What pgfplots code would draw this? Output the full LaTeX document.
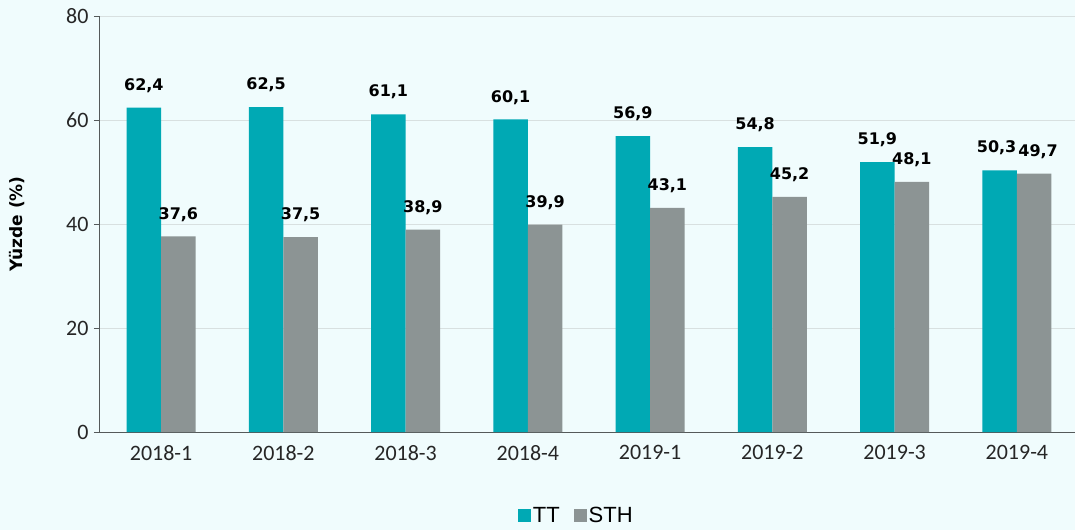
\documentclass[border=0pt]{standalone}
\usepackage{pgfplots}
\usepackage{pgfplotstable}
\pgfplotsset{compat=1.18}
\usepackage{fontspec}
\setmainfont{Carlito}
\newfontfamily\lblfont{DejaVu Sans}
\newfontfamily\legfont{Liberation Sans}
\definecolor{bg}{HTML}{F0FCFD}
\definecolor{teal1}{HTML}{00A9B4}
\definecolor{gray1}{HTML}{8C9494}
\definecolor{axc}{HTML}{555A5A}
\definecolor{gridc}{HTML}{D8E0E0}
\pgfplotstableread{
x y dx
0 62.4 0
1 62.5 0
2 61.1 0
3 60.1 0
4 56.9 0
5 54.8 0
6 51.9 0
7 50.3 -3
}\tttable
\pgfplotstableread{
x y dx
0 37.6 0
1 37.5 0
2 38.9 0
3 39.9 0
4 43.1 0
5 45.2 0
6 48.1 0
7 49.7 4
}\sthtable
\begin{document}
\begin{tikzpicture}
\fill[bg] (-100pt,-98pt) rectangle (975pt,432pt);
\begin{axis}[
  at={(0,0)}, anchor=south west,
  scale only axis, width=978pt, height=416pt,
  xmin=-0.5, xmax=7.5, ymin=0, ymax=80,
  axis x line*=bottom, axis y line*=left,
  axis line style={axc, line width=1pt},
  ybar=0pt, bar width=34.5pt,
  xtick={0,...,7},
  xticklabels={2018-1,2018-2,2018-3,2018-4,2019-1,2019-2,2019-3,2019-4},
  major x tick style={draw=none},
  extra x ticks={-0.5,0.5,1.5,2.5,3.5,4.5,5.5,6.5,7.5},
  extra x tick labels={},
  extra x tick style={major tick length=6pt, tick style={axc, line width=1pt}, tick align=outside, grid=none},
  ytick={0,20,40,60,80},
  ymajorgrids, grid style={gridc, line width=0.8pt},
  tick align=outside, major tick length=6pt,
  y tick style={axc, line width=1pt},
  /pgf/number format/assume math mode=true,
  tick label style={font=\fontsize{22}{24}\selectfont, text=black!85},
  xticklabel style={yshift=-4pt},
  yticklabel style={xshift=-2pt},
  ylabel={\lblfont\bfseries Yüzde (\%)},
  ylabel style={font=\fontsize{17}{20}\selectfont, at={(axis description cs:-0.085,0.5)}, anchor=center},
  legend style={at={(axis description cs:0.487,-0.2)}, anchor=center, draw=none, fill=none,
    legend columns=2, font=\legfont\fontsize{22}{24}\selectfont,
    /tikz/every even column/.append style={column sep=12pt}},
  legend image code/.code={\fill[#1] (0pt,-6.5pt) rectangle (13pt,6.5pt);},
]
\addplot[fill=teal1, draw=none,
  visualization depends on={\thisrow{dx} \as \dx},
  nodes near coords={\pgfmathprintnumber[use comma,fixed,fixed zerofill,precision=1,assume math mode=true]{\pgfplotspointmeta}},
  nodes near coords style={font=\lblfont\bfseries\fontsize{16}{18}\selectfont, anchor=south, inner sep=0pt, yshift=15pt, xshift=\dx, text=black}]
  table[x=x, y=y] {\tttable};
\addplot[fill=gray1, draw=none,
  visualization depends on={\thisrow{dx} \as \dx},
  nodes near coords={\pgfmathprintnumber[use comma,fixed,fixed zerofill,precision=1,assume math mode=true]{\pgfplotspointmeta}},
  nodes near coords style={font=\lblfont\bfseries\fontsize{16}{18}\selectfont, anchor=south, inner sep=0pt, yshift=15pt, xshift=\dx, text=black}]
  table[x=x, y=y] {\sthtable};
\legend{TT,STH}
\end{axis}
\pgfresetboundingbox
\path[use as bounding box] (-100pt,-98pt) rectangle (975pt,432pt);
\end{tikzpicture}
\end{document}
